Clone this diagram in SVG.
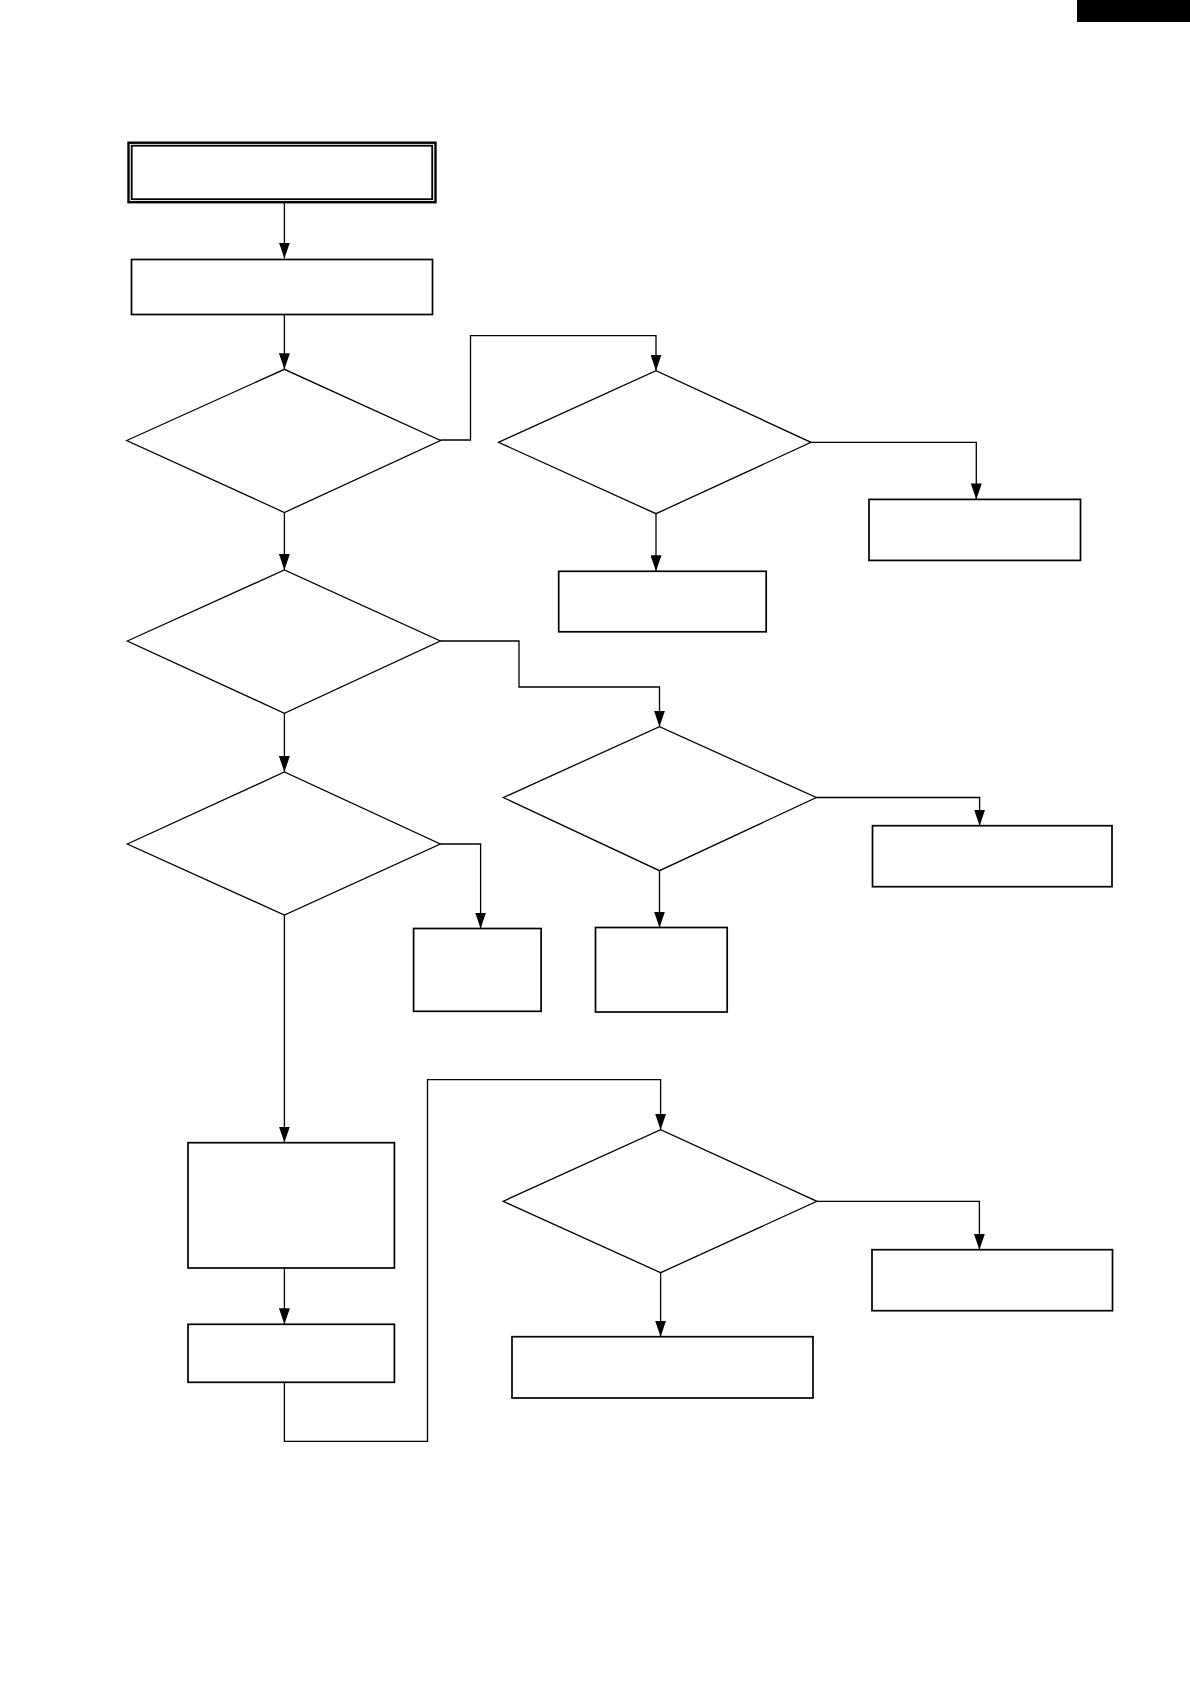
<svg xmlns="http://www.w3.org/2000/svg" width="1190" height="1684" viewBox="0 0 1190 1684">
<defs>
<style>
.box{fill:#fff;stroke:#000;stroke-width:1.7}
.dia{fill:#fff;stroke:#000;stroke-width:1.3}
.con{fill:none;stroke:#000;stroke-width:1.3}
</style>
<marker id="arr" viewBox="0 0 16 11" refX="16" refY="5.5" markerWidth="16" markerHeight="11" markerUnits="userSpaceOnUse" orient="auto">
<path d="M0,0 L16,5.5 L0,11 z" fill="#000"/>
</marker>
</defs>
<rect width="1190" height="1684" fill="#fff"/>
<rect id="tab" x="1077" y="0" width="113" height="22" fill="#000"/>

<g id="connectors">
<path class="con" d="M284.4,203 V258.5" marker-end="url(#arr)"/>
<path class="con" d="M284.4,315 V369.3" marker-end="url(#arr)"/>
<path class="con" d="M440.5,440 H470.5 V335.7 H656 V370.7" marker-end="url(#arr)"/>
<path class="con" d="M656,513.7 V571.3" marker-end="url(#arr)"/>
<path class="con" d="M811,442.3 H976.3 V499.4" marker-end="url(#arr)"/>
<path class="con" d="M284.4,512.5 V570" marker-end="url(#arr)"/>
<path class="con" d="M440.3,641 H519 V687 H659.5 V726.7" marker-end="url(#arr)"/>
<path class="con" d="M816.3,797.5 H979.6 V825.7" marker-end="url(#arr)"/>
<path class="con" d="M659.5,870.7 V927.5" marker-end="url(#arr)"/>
<path class="con" d="M284.4,713.3 V772" marker-end="url(#arr)"/>
<path class="con" d="M440.3,844 H480.6 V928.5" marker-end="url(#arr)"/>
<path class="con" d="M284.4,915 V1142.5" marker-end="url(#arr)"/>
<path class="con" d="M284.4,1268 V1324.3" marker-end="url(#arr)"/>
<path class="con" d="M284.4,1382.3 V1441.3 H427.5 V1079.7 H660.6 V1129.7" marker-end="url(#arr)"/>
<path class="con" d="M816.9,1201.3 H979.4 V1249.7" marker-end="url(#arr)"/>
<path class="con" d="M660.6,1272.7 V1336.7" marker-end="url(#arr)"/>
</g>

<g id="start">
<rect x="128.5" y="142.7" width="307" height="59.5" fill="#fff" stroke="#000" stroke-width="2.4"/>
<rect x="131.7" y="145.7" width="300.5" height="53.5" fill="none" stroke="#000" stroke-width="1.8"/>
</g>
<g id="step1"><rect class="box" x="131.5" y="259.5" width="301" height="55"/></g>

<g id="d1"><polygon class="dia" points="126.7,440.5 284.4,369.3 440.5,440.5 284.4,512.5"/></g>
<g id="d2"><polygon class="dia" points="498.5,442.3 656,370.7 811,442.3 656,513.7"/></g>
<g id="box_d2_down"><rect class="box" x="558.7" y="571.3" width="207.5" height="60.5"/></g>
<g id="box_d2_right"><rect class="box" x="869" y="499.4" width="211.5" height="61"/></g>

<g id="d3"><polygon class="dia" points="127.3,641 284.4,570 440.3,641 284.4,713.3"/></g>
<g id="d4"><polygon class="dia" points="503.4,797.5 659.5,726.7 816.3,797.5 659.5,870.7"/></g>
<g id="box_d4_right"><rect class="box" x="872.5" y="825.7" width="239.5" height="61"/></g>
<g id="box_d4_down"><rect class="box" x="595.5" y="927.5" width="131.7" height="84.5"/></g>

<g id="d5"><polygon class="dia" points="127.3,844 284.4,772 440.3,844 284.4,915"/></g>
<g id="box_d5_right"><rect class="box" x="413.6" y="928.5" width="127.5" height="82.8"/></g>

<g id="step2"><rect class="box" x="188" y="1142.7" width="206.4" height="125.3"/></g>
<g id="step3"><rect class="box" x="188" y="1324.3" width="206.4" height="58"/></g>

<g id="d6"><polygon class="dia" points="503.1,1201.3 660.6,1129.7 816.9,1201.3 660.6,1272.7"/></g>
<g id="box_d6_right"><rect class="box" x="872" y="1249.7" width="240.5" height="61"/></g>
<g id="box_d6_down"><rect class="box" x="512" y="1336.7" width="301" height="61.3"/></g>
</svg>
